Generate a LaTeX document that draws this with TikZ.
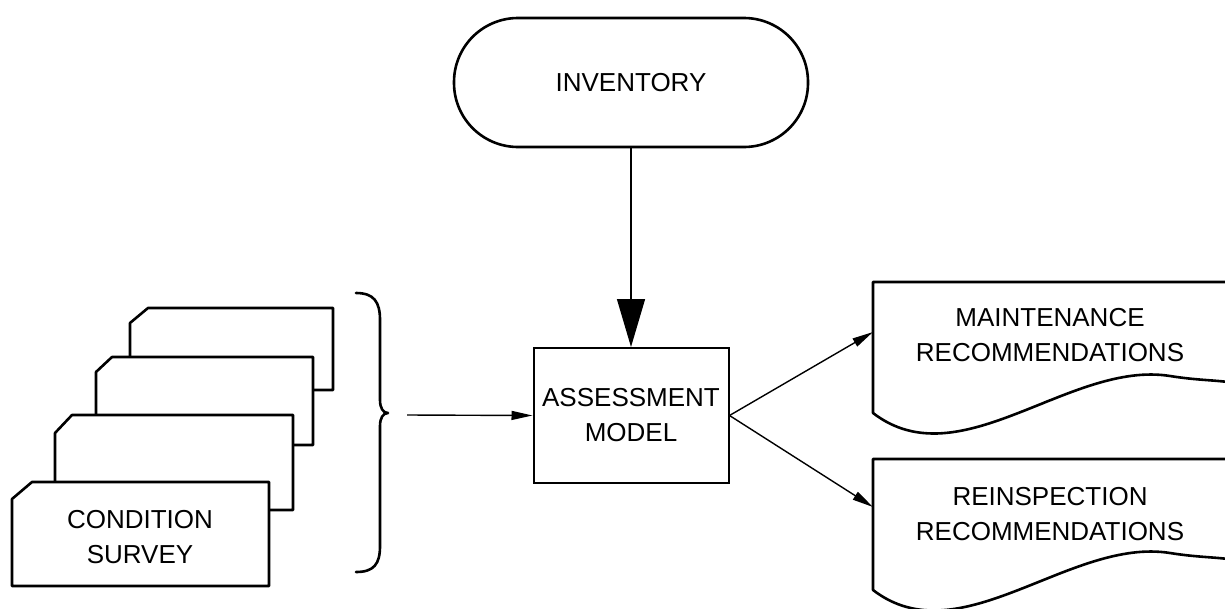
\documentclass[tikz,border=0pt]{standalone}
\usepackage{fontspec}
\setmainfont{Liberation Sans}
\usetikzlibrary{arrows.meta}
\begin{document}
\begin{tikzpicture}[x=1pt,y=-1pt,
  label/.style={font=\fontsize{26}{35}\selectfont, align=center},
  outline/.style={line width=2.6pt, line join=round},
  card/.style={outline, fill=white},
  flow/.style={line width=1.4pt, -{Triangle[length=21pt,width=9pt]}},
  bigflow/.style={line width=1.4pt, -{Triangle[length=48pt,width=28pt]}}]
\useasboundingbox (0,0) rectangle (1225,608);

% terminal: inventory
\node[outline, draw, rounded corners=64pt, minimum width=354pt, minimum height=129pt,
      label] (inv) at (631,82.5) {INVENTORY};

% process box
\node[draw, line width=2pt, minimum width=195pt, minimum height=135pt, label]
      (model) at (631,415.5) {ASSESSMENT\\MODEL};

% stack of punched cards, back to front
\draw[card] (130,323) -- (148,308) -- (333,308) -- (333,390) -- (130,390) -- cycle;
\draw[card] (96,372) -- (112,357) -- (313,357) -- (313,445) -- (96,445) -- cycle;
\draw[card] (55,433) -- (72,415) -- (293,415) -- (293,510) -- (55,510) -- cycle;
\draw[card] (12,499) -- (32,482) -- (269,482) -- (269,586) -- (12,586) -- cycle;
\node[label] (survey) at (140,537) {CONDITION\\SURVEY};

% brace gathering the cards
\draw[outline, line cap=round]
  (356,293) .. controls (374,293) and (380,302) .. (380,320) -- (380,400)
  .. controls (380,408) and (383,413) .. (388,413)
  .. controls (383,413) and (380,418) .. (380,426) -- (380,546)
  .. controls (380,564) and (374,572) .. (356,572);
\coordinate (gather) at (407,415);

% output documents
\draw[outline] (1228,282) -- (873,282) -- (873,413)
  .. controls (960,480) and (1070,360) .. (1170,376)
  .. controls (1195,380) and (1212,380) .. (1228,382);
\coordinate (maintin) at (873,332);
\node[label] (maint) at (1050,335) {MAINTENANCE\\RECOMMENDATIONS};

\draw[outline] (1228,459) -- (873,459) -- (873,590)
  .. controls (960,657) and (1070,537) .. (1170,553)
  .. controls (1195,557) and (1212,557) .. (1228,559);
\coordinate (reinsin) at (873,507);
\node[label] (reins) at (1050,514) {REINSPECTION\\RECOMMENDATIONS};

% connectors
\draw[bigflow] (inv.south) -- (model.north);
\draw[flow] (gather) -- (model.west);
\draw[flow] (model.east) -- (maintin);
\draw[flow] (model.east) -- (reinsin);
\end{tikzpicture}
\end{document}
